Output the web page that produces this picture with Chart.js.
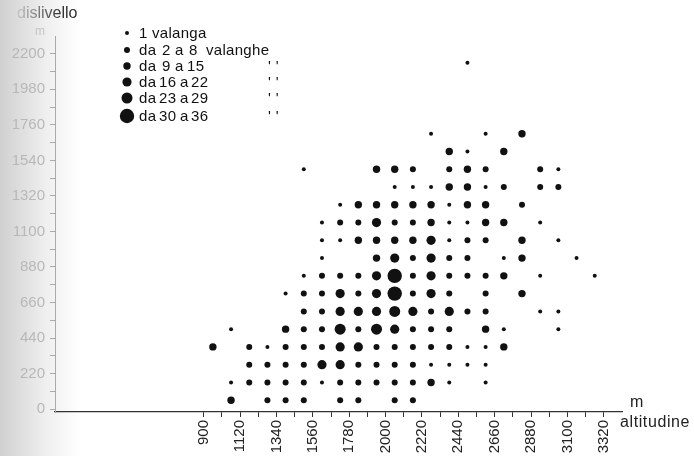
<!DOCTYPE html>
<html>
<head>
<meta charset="utf-8">
<style>
  html, body { margin: 0; padding: 0; background: #fff; }
</style>
<script src="https://cdn.jsdelivr.net/npm/chart.js@4.4.1/dist/chart.umd.min.js"></script>
</head>
<body>
<canvas id="chart" width="694" height="456"></canvas>
<script>
// classi di frequenza (legenda)
const classi = ['1 valanga', 'da 2 a 8 valanghe', 'da 9 a 15', 'da 16 a 22', 'da 23 a 29', 'da 30 a 36'];

// [altitudine, dislivello] in m, centro della classe di 110 m
const classe1 = [
  [2495, 2145], [2275, 1705], [2605, 1705], [2495, 1595], [1505, 1485], [3045, 1485],
  [2055, 1375], [2165, 1375], [2275, 1375], [2605, 1375], [1725, 1265], [2385, 1265],
  [1615, 1155], [2385, 1155], [2495, 1155], [2935, 1155], [1615, 1045], [1725, 1045],
  [2385, 1045], [3045, 1045], [1615, 935], [2715, 935], [3155, 935], [1505, 825],
  [2935, 825], [3265, 825], [1395, 715], [2935, 605], [3045, 605], [1065, 495],
  [2715, 495], [3045, 495], [1285, 385], [2495, 385], [2605, 385], [2275, 275],
  [2385, 275], [2495, 275], [2605, 275], [1065, 165], [1615, 165], [2385, 165], [2605, 165]
];
const classe2 = [
  [2165, 1485], [2385, 1485], [2605, 1485], [2935, 1485], [2715, 1375], [2935, 1375],
  [3045, 1375], [2825, 1265], [1725, 1155], [1835, 1155], [2055, 1155], [2165, 1155],
  [2495, 1045], [2605, 1045], [2165, 935], [2385, 935], [2495, 935],
  [1615, 825], [1725, 825], [1835, 825], [2165, 825], [2385, 825], [2495, 825], [2605, 825],
  [1505, 715], [1615, 715], [1835, 715], [2165, 715], [2385, 715], [2605, 715],
  [1505, 605], [1615, 605], [2275, 605], [2495, 605], [2605, 605],
  [1505, 495], [1615, 495], [1835, 495], [2165, 495], [2275, 495], [2385, 495],
  [1175, 385], [1395, 385], [1505, 385], [1615, 385], [1945, 385], [2055, 385], [2165, 385], [2275, 385], [2385, 385],
  [1175, 275], [1285, 275], [1395, 275], [1505, 275], [1835, 275], [1945, 275], [2055, 275], [2165, 275],
  [1175, 165], [1285, 165], [1395, 165], [1505, 165], [1725, 165], [1835, 165], [1945, 165], [2055, 165], [2165, 165],
  [1285, 55], [1395, 55], [1505, 55], [1725, 55], [1835, 55], [2055, 55], [2165, 55]
];
const classe3 = [
  [2825, 1705], [2385, 1595], [2715, 1595], [1945, 1485], [2055, 1485], [2495, 1485],
  [2385, 1375], [2495, 1375], [1835, 1265], [1945, 1265], [2055, 1265], [2165, 1265],
  [2275, 1265], [2495, 1265], [2605, 1265], [2275, 1155], [2605, 1155], [2715, 1155],
  [1835, 1045], [1945, 1045], [2055, 1045], [2165, 1045], [2825, 1045], [1945, 935],
  [2825, 935], [2715, 825], [2825, 715], [1395, 495], [2605, 495], [955, 385],
  [2715, 385], [2275, 165], [1065, 55]
];
const classe4 = [
  [2275, 1045], [1945, 1155], [2055, 935], [2275, 935], [1945, 825], [2275, 825],
  [1725, 715], [1945, 715], [2275, 715], [1725, 605], [1835, 605], [1945, 605],
  [2165, 605], [2385, 605], [2055, 495], [1725, 385], [1835, 385], [1615, 275], [1725, 275]
];
const classe5 = [[2055, 605], [1725, 495], [1945, 495]];
const classe6 = [[2055, 825], [2055, 715]];

const xTicks = [900, 1010, 1120, 1230, 1340, 1450, 1560, 1670, 1780, 1890, 2000, 2110,
  2220, 2330, 2440, 2550, 2660, 2770, 2880, 2990, 3100, 3210, 3320];
const xLabels = [900, 1120, 1340, 1560, 1780, 2000, 2220, 2440, 2660, 2880, 3100, 3320];
const yTicks = [0, 110, 220, 330, 440, 550, 660, 770, 880, 990, 1100, 1210, 1320,
  1430, 1540, 1650, 1760, 1870, 1980, 2090, 2200];
const yLabels = [0, 220, 440, 660, 880, 1100, 1320, 1540, 1760, 1980, 2200];

const raggi = [2, 3, 3.7, 4.6, 5.5, 7.2];
const FONT = '"Liberation Sans", Arial, sans-serif';

const gruppi = [classe1, classe2, classe3, classe4, classe5, classe6];

// ombra grigia della scansione sul bordo sinistro
const sfondo = {
  id: 'sfondo',
  beforeDraw(chart) {
    const ctx = chart.ctx;
    const g = ctx.createLinearGradient(0, 0, 80, 0);
    g.addColorStop(0, '#d0d0d0');
    g.addColorStop(0.55, '#eeeeee');
    g.addColorStop(1, '#ffffff');
    ctx.save();
    ctx.fillStyle = g;
    ctx.fillRect(0, 0, 80, chart.height);
    ctx.restore();
  }
};

const testi = {
  id: 'testi',
  afterDraw(chart) {
    const ctx = chart.ctx;
    ctx.save();
    ctx.textBaseline = 'alphabetic';

    // titolo asse y
    const g = ctx.createLinearGradient(15, 0, 60, 0);
    g.addColorStop(0, '#cfcfcf');
    g.addColorStop(1, '#333');
    ctx.fillStyle = g;
    ctx.font = '16px ' + FONT;
    ctx.fillText('dislivello', 17, 18);
    ctx.fillStyle = '#c4c4c4';
    ctx.font = '12px ' + FONT;
    ctx.fillText('m', 35, 35);

    // titolo asse x
    ctx.fillStyle = '#222';
    ctx.font = '16px ' + FONT;
    ctx.letterSpacing = '0.6px';
    ctx.fillText('m', 630, 407);
    ctx.fillText('altitudine', 620, 427);

    // legenda
    const ly = [33, 50, 66, 82, 98, 116];
    const righe = [
      [['1', 139], ['valanga', 152]],
      [['da', 139], ['2', 162], ['a', 175], ['8', 189], ['valanghe', 206]],
      [['da', 139], ['9', 162], ['a', 175], ['15', 187], ["' '", 268]],
      [['da', 139], ['16', 159], ['a', 180], ['22', 191], ["' '", 268]],
      [['da', 139], ['23', 159], ['a', 180], ['29', 191], ["' '", 268]],
      [['da', 139], ['30', 159], ['a', 180], ['36', 191], ["' '", 268]]
    ];
    ctx.font = '15px ' + FONT;
    ctx.letterSpacing = '0.3px';
    righe.forEach((r, i) => {
      ctx.fillStyle = '#111';
      ctx.beginPath();
      ctx.arc(127, ly[i], raggi[i], 0, Math.PI * 2);
      ctx.fill();
      r.forEach(([t, x]) => ctx.fillText(t, x, ly[i] + 5));
    });
    ctx.restore();
  }
};

new Chart(document.getElementById('chart'), {
  type: 'scatter',
  data: {
    datasets: gruppi.map((pts, i) => ({
      label: classi[i],
      data: pts.map(p => ({ x: p[0], y: p[1] })),
      pointRadius: raggi[i],
      pointHoverRadius: raggi[i],
      backgroundColor: '#111',
      borderWidth: 0
    }))
  },
  options: {
    responsive: false,
    animation: false,
    layout: { padding: { top: 36, right: 72, left: 0, bottom: 0 } },
    plugins: {
      legend: { display: false },
      tooltip: { enabled: false }
    },
    scales: {
      x: {
        type: 'linear',
        min: 0,
        max: 3430,
        afterBuildTicks: s => { s.ticks = xTicks.map(v => ({ value: v })); },
        afterFit: s => { s.height = 44; },
        ticks: {
          autoSkip: false,
          minRotation: 90,
          maxRotation: 90,
          padding: 3,
          color: '#222',
          font: { family: FONT, size: 15 },
          callback: v => xLabels.includes(v) ? String(v) : ''
        },
        grid: { drawOnChartArea: false, tickLength: 5, color: '#333' },
        border: { color: '#333', width: 1.2 }
      },
      y: {
        type: 'linear',
        min: -18,
        max: 2310,
        afterBuildTicks: s => { s.ticks = yTicks.map(v => ({ value: v })); },
        afterFit: s => { s.width = 55; },
        ticks: {
          autoSkip: false,
          padding: 5,
          color: '#b8b8b8',
          font: { family: FONT, size: 15 },
          callback: v => yLabels.includes(v) ? String(v) : ''
        },
        grid: { drawOnChartArea: false, tickLength: 5, color: '#aaa' },
        border: { color: '#aaa', width: 1 }
      }
    }
  },
  plugins: [sfondo, testi]
});
</script>
</body>
</html>
